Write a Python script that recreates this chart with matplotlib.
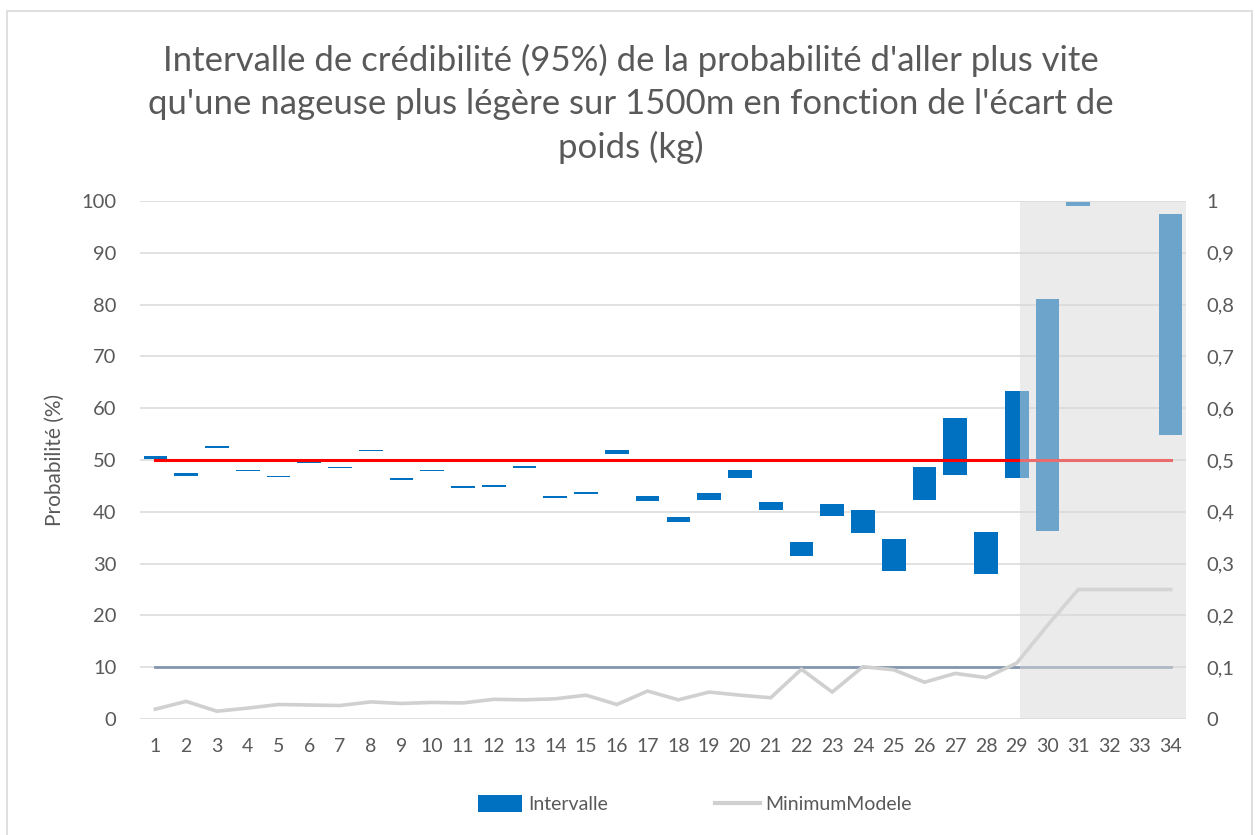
import numpy as np
import matplotlib.pyplot as plt
from matplotlib.patches import Patch, Rectangle
from matplotlib.lines import Line2D

plt.rcParams['font.family'] = ['Lato', 'DejaVu Sans']

# Données
ecart = list(range(1, 35))
bas = [50.2, 47.0, 52.4, 47.8, 46.7, 49.4, 48.4, 51.7, 46.2, 47.8,
       44.6, 44.8, 48.4, 42.6, 43.5, 51.2, 42.1, 38.0, 42.3, 46.5,
       40.3, 31.5, 39.2, 36.0, 28.5, 42.2, 47.2, 27.9, 46.6, 36.3,
       99.0, np.nan, np.nan, 54.8]
haut = [50.7, 47.4, 52.7, 48.1, 47.0, 49.8, 48.7, 52.0, 46.5, 48.1,
        45.0, 45.2, 48.8, 43.0, 43.9, 51.9, 43.0, 39.0, 43.6, 48.0,
        41.9, 34.1, 41.6, 40.3, 34.7, 48.6, 58.2, 36.1, 63.3, 81.0,
        99.8, np.nan, np.nan, 97.4]
minimum_modele = [1.9, 3.4, 1.5, 2.1, 2.8, 2.7, 2.6, 3.3, 3.0, 3.2,
                  3.1, 3.8, 3.7, 3.9, 4.6, 2.8, 5.4, 3.7, 5.2, 4.6,
                  4.1, 9.6, 5.2, 10.1, 9.5, 7.1, 8.8, 8.0, 10.8, 18.1,
                  25.0, 25.0, 25.0, 25.0]
seuil_50 = [50] * 34
seuil_10 = [10] * 34
debut_zone = 29.1  # début de la zone grisée (peu de données)

gris_texte = '#595959'
bleu = '#0070C0'

fig = plt.figure(figsize=(12.55, 8.35), dpi=100)
ax = fig.add_axes([140 / 1255, 1 - 719 / 835, 1046 / 1255, 518 / 835])

x = np.array(ecart)
b = np.array(bas)
h = np.array(haut)
ax.bar(x, h - b, bottom=b, width=0.77, color=bleu, zorder=3)
ax.plot(x, seuil_50, color='#FF0000', lw=2.2, zorder=4)
ax.plot(x, seuil_10, color='#8497B0', lw=2.0, zorder=4)
ax.plot(x, minimum_modele, color='#D0D0D0', lw=2.6, zorder=4,
        solid_joinstyle='miter')

# zone grisée semi-transparente par-dessus
ax.axvspan(debut_zone, 34.6, color='#D8D8D8', alpha=0.5, lw=0, zorder=5)

ax.set_xlim(0.5, 34.5)
ax.set_ylim(0, 100)
ax.set_yticks(range(0, 101, 10))
ax.set_xticks(x)
ax.grid(axis='y', color='#D9D9D9', lw=1.1, zorder=0)
ax.set_axisbelow(True)
for s in ax.spines.values():
    s.set_visible(False)
ax.tick_params(axis='x', length=0, pad=14, labelsize=14, labelcolor=gris_texte)
ax.tick_params(axis='y', length=0, pad=17, labelsize=14.5, labelcolor=gris_texte)
ax.set_ylabel('Probabilité (%)', fontsize=15, color=gris_texte, labelpad=12)

ax2 = ax.twinx()
ax2.set_ylim(0, 1)
ticks2 = np.arange(0, 1.01, 0.1)
ax2.set_yticks(ticks2)
ax2.set_yticklabels(['0' if t == 0 else '1' if t == 1 else f'{t:.1f}'.replace('.', ',') for t in ticks2])
for s in ax2.spines.values():
    s.set_visible(False)
ax2.tick_params(axis='y', length=0, pad=15, labelsize=14.5, labelcolor=gris_texte)

fig.text(0.503, 1 - 104 / 835,
         "Intervalle de crédibilité (95%) de la probabilité d'aller plus vite\n"
         "qu'une nageuse plus légère sur 1500m en fonction de l'écart de\n"
         "poids (kg)",
         ha='center', va='center', fontsize=25, color=gris_texte, linespacing=1.4)

handles = [Patch(facecolor=bleu, edgecolor='none'),
           Line2D([0], [0], color='#D0D0D0', lw=3)]
fig.legend(handles, ['Intervalle', 'MinimumModele'], loc='center left',
           bbox_to_anchor=(460 / 1255, 1 - 804 / 835), ncol=2, frameon=False,
           fontsize=14, labelcolor=gris_texte, handlelength=2.3, handleheight=1.0,
           handletextpad=0.3, columnspacing=5.5)

fig.patches.append(Rectangle((7 / 1255, -0.01), 1245 / 1255, 1 - 11 / 835 + 0.01,
                             transform=fig.transFigure, fill=False,
                             edgecolor='#D9D9D9', lw=1.2))

fig.savefig('out.png', dpi=100)
